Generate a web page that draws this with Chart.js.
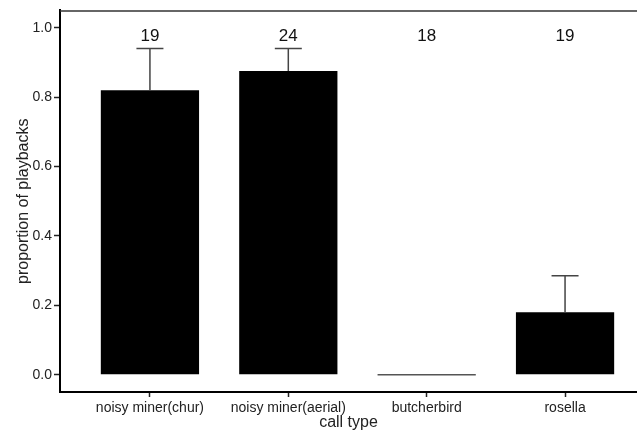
<!DOCTYPE html>
<html>
<head>
<meta charset="utf-8">
<script src="https://cdn.jsdelivr.net/npm/chart.js@4/dist/chart.umd.min.js"></script>
<style>
  html, body { margin: 0; padding: 0; background: #fff; }
  #wrap { width: 637px; height: 432px; }
</style>
</head>
<body>
<div id="wrap"><canvas id="c" width="637" height="432"></canvas></div>
<script>
const categories = ["noisy miner(chur)", "noisy miner(aerial)", "butcherbird", "rosella"];
const proportions = [0.82, 0.875, 0, 0.18];
const errorUpper = [0.94, 0.94, 0, 0.285];
const sampleSizes = ["19", "24", "18", "19"];
const yTickValues = [0, 0.2, 0.4, 0.6, 0.8, 1.0];
const positions = [1, 2, 3, 4];

const FONT = "'Liberation Sans', Arial, Helvetica, sans-serif";

const decorations = {
  id: 'decorations',
  afterDatasetsDraw(chart) {
    const {ctx, chartArea, scales} = chart;
    const x = scales.x, y = scales.y;
    ctx.save();
    // top frame line
    ctx.strokeStyle = '#333';
    ctx.lineWidth = 1.5;
    ctx.beginPath();
    ctx.moveTo(chartArea.left, chartArea.top + 0.5);
    ctx.lineTo(chartArea.right, chartArea.top + 0.5);
    ctx.stroke();
    // error bars (upper only)
    ctx.strokeStyle = '#444';
    ctx.lineWidth = 1.5;
    positions.forEach((p, i) => {
      if (errorUpper[i] <= proportions[i]) return;
      const px = x.getPixelForValue(p);
      const y0 = y.getPixelForValue(proportions[i]);
      const y1 = y.getPixelForValue(errorUpper[i]);
      ctx.beginPath();
      ctx.moveTo(px, y0);
      ctx.lineTo(px, y1);
      ctx.moveTo(px - 13.5, y1);
      ctx.lineTo(px + 13.5, y1);
      ctx.stroke();
    });
    // zero-height bar line
    ctx.strokeStyle = '#555';
    ctx.lineWidth = 1.5;
    const meta = chart.getDatasetMeta(0);
    meta.data.forEach((bar, i) => {
      if (proportions[i] === 0) {
        const yz = y.getPixelForValue(0);
        ctx.beginPath();
        ctx.moveTo(bar.x - bar.width / 2, yz);
        ctx.lineTo(bar.x + bar.width / 2, yz);
        ctx.stroke();
      }
    });
    // sample sizes
    ctx.fillStyle = '#111';
    ctx.font = '17px ' + FONT;
    ctx.textAlign = 'center';
    ctx.textBaseline = 'middle';
    positions.forEach((p, i) => {
      ctx.fillText(sampleSizes[i], x.getPixelForValue(p), chartArea.top + 26);
    });
    ctx.restore();
  }
};

new Chart(document.getElementById('c'), {
  type: 'bar',
  data: {
    datasets: [{
      data: positions.map((p, i) => ({x: p, y: proportions[i]})),
      backgroundColor: '#000',
      borderWidth: 0,
      categoryPercentage: 1,
      barPercentage: 0.71
    }]
  },
  options: {
    responsive: false,
    animation: false,
    devicePixelRatio: 1,
    layout: { padding: { top: 10, right: 0, left: 0, bottom: 0 } },
    plugins: { legend: { display: false }, tooltip: { enabled: false } },
    scales: {
      x: {
        type: 'linear',
        offset: false,
        min: 0.35,
        max: 4.52,
        afterFit(s) { s.height = 40; },
        afterBuildTicks(s) { s.ticks = positions.map(v => ({value: v})); },
        grid: { display: true, offset: false, drawOnChartArea: false, drawTicks: true, tickLength: 5, tickColor: '#222', tickWidth: 1.5 },
        border: { display: true, color: '#000', width: 2 },
        ticks: {
          autoSkip: false,
          maxRotation: 0,
          padding: 3,
          color: '#222',
          font: { family: FONT, size: 14 },
          callback: (v) => categories[positions.indexOf(v)] ?? ''
        },
        title: {
          display: true,
          text: 'call type',
          color: '#222',
          font: { family: FONT, size: 16 },
          padding: { top: 0, bottom: 0 }
        }
      },
      y: {
        min: -0.05,
        max: 1.05,
        afterFit(s) { s.width = 60; },
        afterBuildTicks(s) { s.ticks = yTickValues.map(v => ({value: v})); },
        grid: { display: true, drawOnChartArea: false, drawTicks: true, tickLength: 6, tickColor: '#222', tickWidth: 1.5 },
        border: { display: true, color: '#000', width: 2 },
        ticks: {
          padding: 2,
          color: '#222',
          font: { family: FONT, size: 14 },
          callback: (v) => Number(v).toFixed(1)
        },
        title: {
          display: true,
          text: 'proportion of playbacks',
          color: '#222',
          font: { family: FONT, size: 16 },
          padding: { top: 14, bottom: 0 }
        }
      }
    }
  },
  plugins: [decorations]
});
</script>
</body>
</html>
